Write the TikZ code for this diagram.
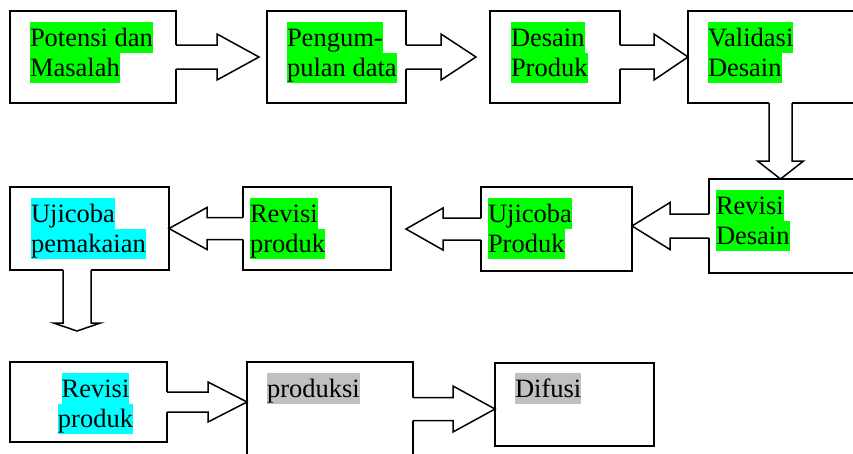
\documentclass[tikz,border=0pt]{standalone}
\usepackage{fontspec}
\setmainfont{Liberation Serif}
\usetikzlibrary{calc}
\definecolor{hlgreen}{RGB}{0,255,0}
\definecolor{hlcyan}{RGB}{0,255,255}
\definecolor{hlgray}{RGB}{192,192,192}
\newcommand{\hlx}[2]{{\setlength{\fboxsep}{0pt}\colorbox{#1}{\rule[-6.5pt]{0pt}{30.5pt}#2}}}
\newcommand{\hlg}[1]{\hlx{hlgreen}{#1}}
\newcommand{\hlc}[1]{\hlx{hlcyan}{#1}}
\newcommand{\hlr}[1]{\hlx{hlgray}{#1}}
% block arrow: #1 start, #2 tip, #3 shaft half width, #4 head half width, #5 head length
\newcommand{\barrow}[5]{%
  \coordinate (ba-p) at ($(#2)!#5!(#1)$);
  \coordinate (ba-bk) at ($(#1)!-2pt!(#2)$);
  \fill[white] ($(ba-bk)!#3!90:(#2)$) -- ($(ba-p)!#3!90:(#2)$) -- ($(ba-p)!#4!90:(#2)$) -- (#2)
    -- ($(ba-p)!#4!-90:(#2)$) -- ($(ba-p)!#3!-90:(#2)$) -- ($(ba-bk)!#3!-90:(#2)$) -- cycle;
  \draw[arrline] ($(#1)!#3!90:(#2)$) -- ($(ba-p)!#3!90:(#2)$) -- ($(ba-p)!#4!90:(#2)$) -- (#2)
    -- ($(ba-p)!#4!-90:(#2)$) -- ($(ba-p)!#3!-90:(#2)$) -- ($(#1)!#3!-90:(#2)$);
}
\begin{document}
\begin{tikzpicture}[x=1pt,y=-1pt,
  box/.style={draw, line width=1.5pt, inner sep=0pt, outer sep=0pt, anchor=north west},
  arrline/.style={line width=1.5pt, line join=miter},
  txt/.style={inner sep=0pt, outer sep=0pt, anchor=north west, align=left,
    font=\fontsize{26.5}{30.5}\selectfont}]
\useasboundingbox (0,0) rectangle (853,453);
\clip (0,0) rectangle (853,453);
% boxes
\node[box, minimum width=166pt, minimum height=92pt] (A) at (10,11) {};
\node[box, minimum width=139pt, minimum height=92pt] (B) at (267,11) {};
\node[box, minimum width=130pt, minimum height=92pt] (C) at (490,11) {};
\node[box, minimum width=185pt, minimum height=92pt] (D) at (688,11) {};
\node[box, minimum width=160pt, minimum height=94pt] (E) at (709,179) {};
\node[box, minimum width=151pt, minimum height=84pt] (F) at (481,187) {};
\node[box, minimum width=148pt, minimum height=83pt] (G) at (243,187) {};
\node[box, minimum width=159pt, minimum height=83pt] (H) at (10,187) {};
\node[box, minimum width=157pt, minimum height=80pt] (I) at (10,362) {};
\node[box, minimum width=166pt, minimum height=120pt] (J) at (247,362) {};
\node[box, minimum width=159pt, minimum height=83pt] (K) at (495,363) {};
% arrow end points
\coordinate (ab-s) at (A.east);
\coordinate (ab-t) at ($(B.west)+(-8,0)$);
\coordinate (bc-s) at (B.east);
\coordinate (bc-t) at ($(C.west)+(-14,0)$);
\coordinate (cd-s) at (C.east);
\coordinate (cd-t) at (D.west);
\coordinate (de-s) at ($(D.south west)+(92.5,0)$);
\coordinate (de-t) at (de-s |- E.north);
\coordinate (ef-s) at (E.west);
\coordinate (ef-t) at (F.east |- E.west);
\coordinate (fg-s) at (F.west);
\coordinate (fg-t) at ($(G.east |- F.west)+(15,0)$);
\coordinate (gh-s) at (G.west);
\coordinate (gh-t) at (H.east |- G.west);
\coordinate (hi-s) at ($(H.south west)+(67,0)$);
\coordinate (hi-t) at ($(hi-s |- I.north)+(0,-31)$);
\coordinate (ij-s) at (I.east);
\coordinate (ij-t) at (J.west |- I.east);
\coordinate (jk-s) at ($(J.north east)+(0,47)$);
\coordinate (jk-t) at (K.west |- jk-s);
% arrows
\barrow{ab-s}{ab-t}{12pt}{23pt}{42pt}
\barrow{bc-s}{bc-t}{12pt}{23pt}{35pt}
\barrow{cd-s}{cd-t}{12pt}{23pt}{34pt}
\barrow{de-s}{de-t}{11.5pt}{23pt}{18pt}
\barrow{ef-s}{ef-t}{12pt}{23.5pt}{38pt}
\barrow{fg-s}{fg-t}{11pt}{21pt}{37pt}
\barrow{gh-s}{gh-t}{11pt}{21pt}{38pt}
\barrow{hi-s}{hi-t}{14pt}{23.5pt}{8pt}
\barrow{ij-s}{ij-t}{10pt}{20pt}{39pt}
\barrow{jk-s}{jk-t}{11.5pt}{23pt}{42pt}
% texts
\node[txt] (tA) at (30,22) {\hlg{Potensi dan}\\\hlg{Masalah}};
\node[txt] (tB) at (287,22) {\hlg{Pengum-}\\\hlg{pulan data}};
\node[txt] (tC) at (511,22) {\hlg{Desain}\\\hlg{Produk}};
\node[txt] (tD) at (708,22) {\hlg{Validasi}\\\hlg{Desain}};
\node[txt] (tE) at (716,190) {\hlg{Revisi}\\\hlg{Desain}};
\node[txt] (tF) at (488,198) {\hlg{Ujicoba}\\\hlg{Produk}};
\node[txt] (tG) at (250,198) {\hlg{Revisi}\\\hlg{produk}};
\node[txt] (tH) at (31,198) {\hlc{Ujicoba}\\\hlc{pemakaian}};
\node[txt, anchor=north, align=center] (tI) at (95.5,373) {\hlc{Revisi}\\\hlc{produk}};
\node[txt] (tJ) at (267,373) {\hlr{produksi}};
\node[txt] (tK) at (515,373) {\hlr{Difusi}};
\end{tikzpicture}
\end{document}
